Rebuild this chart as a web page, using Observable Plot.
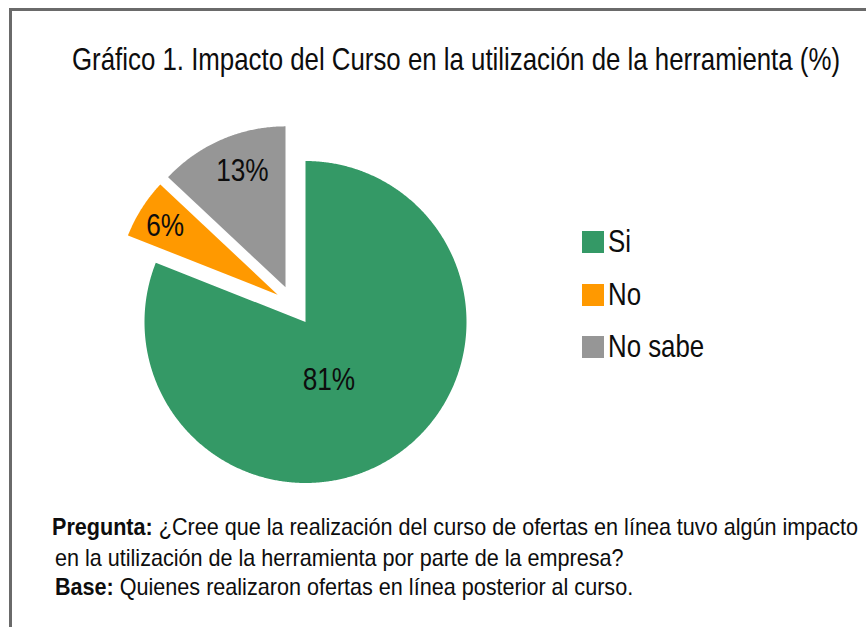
<!DOCTYPE html>
<html>
<head>
<meta charset="utf-8">
<script src="https://cdn.jsdelivr.net/npm/d3@7"></script>
<script src="https://cdn.jsdelivr.net/npm/@observablehq/plot@0.6"></script>
<style>
  html, body { margin: 0; padding: 0; background: #fff; }
  #page { position: relative; width: 866px; height: 627px; overflow: hidden; background: #fff; }
  #frame { position: absolute; left: 9px; top: 8px; width: 900px; height: 700px;
           border-top: 3px solid #6a6a6a; border-left: 3px solid #6a6a6a; }
  .t { position: absolute; white-space: nowrap; color: #0d0d0d; transform-origin: 0 0; }
  .sw { position: absolute; width: 22px; height: 22px; }
  #chart { position: absolute; left: 0; top: 0; }
</style>
</head>
<body>
<div id="page">
  <div id="frame"></div>
  <div id="chart"></div>
</div>
<script>
// ---- data ----
const categories = ["Si", "No", "No sabe"];
const values = [81, 6, 13];
const pctLabels = ["81%", "6%", "13%"];
const colors = ["#349966", "#FF9900", "#969696"];
const titleText = "Gráfico 1. Impacto del Curso en la utilización de la herramienta (%)";
const captionLines = [
  ["Pregunta:", " ¿Cree que la realización del curso de ofertas en línea tuvo algún impacto"],
  ["", "en la utilización de la herramienta por parte de la empresa?"],
  ["Base:", " Quienes realizaron ofertas en línea posterior al curso."]
];

// ---- font detection ----
function hasFont(name) {
  const c = document.createElement("canvas").getContext("2d");
  const s = "No sabe Gráfico 1234 abcdefghij";
  c.font = "40px monospace";
  const w1 = c.measureText(s).width;
  c.font = `40px "${name}", monospace`;
  return Math.abs(c.measureText(s).width - w1) > 0.5;
}
const narrow = hasFont("Liberation Sans Narrow");
const FONT = narrow ? '"Liberation Sans Narrow", "Arial Narrow", sans-serif' : '"Liberation Sans", Arial, sans-serif';
const SX = narrow ? 1 : 0.82;

// ---- layout ----
const R = 161, CX = 305, CY = 321.5;
const explode = { "Si": {d: 0, a: 0}, "No": {d: 39 / R, a: 314.5}, "No sabe": {d: 40 / R, a: 330} };
const labelPos = { "Si": {r: 0.385, a: 157.8}, "No": {r: 0.82, a: 301.5}, "No sabe": {r: 0.775, a: 339.8} };
const rad = Math.PI / 180;

const arcs = d3.pie().sort(null).value(d => d)(values);
const polys = [];
const labelRows = [];
arcs.forEach((a, i) => {
  const cat = categories[i];
  const e = explode[cat];
  const ox = e.d * Math.sin(e.a * rad), oy = e.d * Math.cos(e.a * rad);
  polys.push({cat, x: ox, y: oy});
  const n = Math.max(2, Math.ceil((a.endAngle - a.startAngle) / (0.4 * rad)));
  for (let k = 0; k <= n; k++) {
    const t = a.startAngle + (a.endAngle - a.startAngle) * k / n;
    polys.push({cat, x: ox + Math.sin(t), y: oy + Math.cos(t)});
  }
  polys.push({cat, x: ox, y: oy});
  const lp = labelPos[cat];
  labelRows.push({cat, text: pctLabels[i], x: ox + lp.r * Math.sin(lp.a * rad), y: oy + lp.r * Math.cos(lp.a * rad)});
});

const plot = Plot.plot({
  width: 866, height: 627,
  margin: 0,
  style: {background: "transparent", overflow: "visible"},
  x: {domain: [-1, 1], range: [CX - R, CX + R], axis: null},
  y: {domain: [-1, 1], range: [CY + R, CY - R], axis: null},
  color: {domain: categories, range: colors},
  marks: [
    Plot.line(polys, {x: "x", y: "y", z: "cat", fill: "cat", stroke: "none", curve: "linear"}),
    Plot.text(labelRows, {x: "x", y: "y", text: "text", fontSize: 32, fill: "#0d0d0d", fontFamily: FONT})
  ]
});
document.getElementById("chart").appendChild(plot);
if (SX !== 1) {
  plot.querySelectorAll("text").forEach(t => {
    const tr = t.getAttribute("transform") || "";
    t.setAttribute("transform", tr + ` scale(${SX},1)`);
  });
}

// ---- html text ----
const page = document.getElementById("page");
function addText(html, left, baseline, size, sx) {
  const d = document.createElement("div");
  d.className = "t";
  d.innerHTML = html;
  d.style.font = `400 ${size}px ${FONT}`;
  d.style.lineHeight = size + "px";
  d.style.left = left + "px";
  d.style.top = (baseline - 0.8445 * size) + "px";
  page.appendChild(d);
  if (sx) d.style.transform = `scaleX(${sx})`;
  return d;
}
function fitWidth(d, target) {
  const w = d.getBoundingClientRect().width;
  const s = target / w;
  d.style.transform = `scaleX(${s})`;
  return s;
}
const title = addText(titleText, 72, 70.5, 31.5);
fitWidth(title, 768);

categories.forEach((c, i) => {
  const top = 231 + i * 52.5;
  const s = document.createElement("div");
  s.className = "sw";
  s.style.left = "582px";
  s.style.top = top + "px";
  s.style.background = colors[i];
  page.appendChild(s);
  addText(c, 608, top + 22, 31.5, SX !== 1 ? SX : null);
});

const capLeft = [52, 55, 55];
const capBase = [535, 566, 595.5];
let capScale = 1;
captionLines.forEach((ln, i) => {
  const html = (ln[0] ? `<b>${ln[0]}</b>` : "") + ln[1].replace(/^ /, "&nbsp;");
  const d = addText(html, capLeft[i], capBase[i], 24);
  if (i === 0) capScale = fitWidth(d, 806);
  else d.style.transform = `scaleX(${capScale})`;
});
</script>
</body>
</html>
